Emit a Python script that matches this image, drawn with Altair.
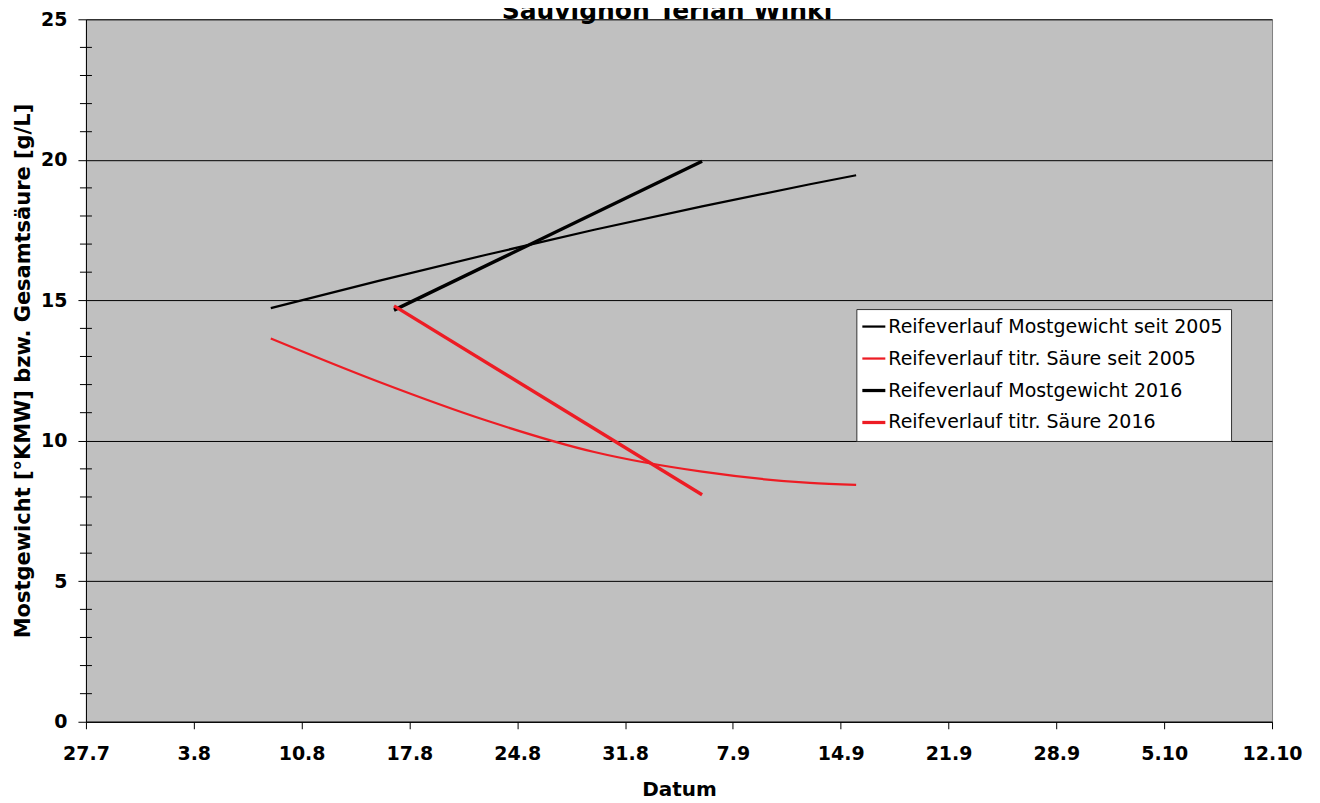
import altair as alt
import pandas as pd

# ---------------- data ----------------
chart_title = "Sauvignon Terlan Winkl"
x_title = "Datum"
y_title = "Mostgewicht [°KMW] bzw. Gesamtsäure [g/L]"

series_names = [
    "Reifeverlauf Mostgewicht seit 2005",
    "Reifeverlauf titr. Säure seit 2005",
    "Reifeverlauf Mostgewicht 2016",
    "Reifeverlauf titr. Säure 2016",
]
series_colors = ["#000000", "#ED1C24", "#000000", "#ED1C24"]
series_widths = [2.25, 2.25, 3.4, 3.4]

start_date = "2016-07-27"
x_tick_days = [0, 7, 14, 21, 28, 35, 42, 49, 56, 63, 70, 77]
x_tick_labels = ["27.7", "3.8", "10.8", "17.8", "24.8", "31.8",
                 "7.9", "14.9", "21.9", "28.9", "5.10", "12.10"]
y_major_ticks = [0, 5, 10, 15, 20, 25]
y_minor_ticks = [1, 2, 3, 4, 6, 7, 8, 9, 11, 12, 13, 14,
                 16, 17, 18, 19, 21, 22, 23, 24]

most_avg_dates = ["2016-08-08", "2016-08-15", "2016-08-22", "2016-08-29",
                  "2016-09-05", "2016-09-12", "2016-09-15"]
most_avg_values = [14.72, 15.69, 16.62, 17.51, 18.34, 19.13, 19.45]

saeure_avg_dates = ["2016-08-08", "2016-08-15", "2016-08-22", "2016-08-29",
                    "2016-09-05", "2016-09-12", "2016-09-15"]
saeure_avg_values = [13.64, 12.10, 10.72, 9.60, 8.90, 8.50, 8.43]

most_2016_dates = ["2016-08-16", "2016-09-05"]
most_2016_values = [14.65, 19.95]

saeure_2016_dates = ["2016-08-16", "2016-09-05"]
saeure_2016_values = [14.80, 8.08]

# ---------------- table ----------------
rows = []
t0 = pd.Timestamp(start_date)
for name, dates, vals, w in [
    (series_names[0], most_avg_dates, most_avg_values, series_widths[0]),
    (series_names[1], saeure_avg_dates, saeure_avg_values, series_widths[1]),
    (series_names[2], most_2016_dates, most_2016_values, series_widths[2]),
    (series_names[3], saeure_2016_dates, saeure_2016_values, series_widths[3]),
]:
    for i, (d, v) in enumerate(zip(dates, vals)):
        rows.append({"series": name, "day": (pd.Timestamp(d) - t0).days,
                     "value": v, "w": w, "order": i})
df = pd.DataFrame(rows)
minor_df = pd.DataFrame({"v": y_minor_ticks})

label_expr = "[" + ",".join("'%s'" % s for s in x_tick_labels) + "][round(datum.value / 7)]"

FONT = "DejaVu Sans"

x_enc = alt.X(
    "day:Q",
    scale=alt.Scale(domain=[x_tick_days[0], x_tick_days[-1]], nice=False, zero=False),
    axis=alt.Axis(
        values=x_tick_days, labelExpr=label_expr, title=x_title, grid=False,
        tickSize=7, labelPadding=16, titlePadding=16, labelFlush=False,
        labelOverlap=False,
    ),
)
y_scale = alt.Scale(domain=[0, 25], nice=False, zero=True)
y_axis = alt.Axis(values=y_major_ticks, title=y_title, grid=True,
                  gridColor="#000000", gridWidth=1, tickSize=8,
                  labelPadding=11, titlePadding=7, labelFlush=False,
                  titleFontSize=21)

lines = alt.Chart(df).mark_line(interpolate="monotone").encode(
    x=x_enc,
    y=alt.Y("value:Q", scale=y_scale, axis=y_axis),
    color=alt.Color(
        "series:N",
        scale=alt.Scale(domain=series_names, range=series_colors),
        sort=series_names,
        legend=alt.Legend(
            orient="none", legendX=771, legendY=290, title=None,
            fillColor="white", strokeColor="#333333", padding=8,
            labelFont=FONT, labelFontSize=19, labelColor="black",
            labelOffset=5, labelLimit=0, symbolType="stroke", symbolSize=529,
            symbolStrokeWidth=alt.ExprRef(expr="test(/2016/, datum.label) ? 3.25 : 2.25"),
            rowPadding=12,
        ),
    ),
    strokeWidth=alt.StrokeWidth("w:Q", scale=None, legend=None),
    detail="series:N",
    order="order:Q",
)

minor = alt.Chart(minor_df).mark_rule(color="black", strokeWidth=1).encode(
    y=alt.Y("v:Q", scale=y_scale, axis=y_axis),
    x=alt.value(-6),
    x2=alt.value(6),
)

chart = alt.layer(lines, minor).properties(
    width=1187,
    height=703,
    autosize=alt.AutoSizeParams(type="none"),
    padding={"left": 78, "top": 11, "right": 40, "bottom": 90},
    title=alt.TitleParams(chart_title, font=FONT, fontSize=25, fontWeight="bold",
                          color="black", anchor="middle", offset=4, dy=18, dx=-12),
    background="white",
).configure_view(
    fill="#C0C0C0", stroke="#808080", strokeWidth=1,
).configure_axis(
    labelFont=FONT, labelFontSize=19, labelFontWeight="bold", labelColor="black",
    titleFont=FONT, titleFontSize=20, titleFontWeight="bold", titleColor="black",
    domainColor="black", domainWidth=1, tickColor="black", tickWidth=1,
)

chart.save("out.html", embed_options={"renderer": "svg", "actions": False})
